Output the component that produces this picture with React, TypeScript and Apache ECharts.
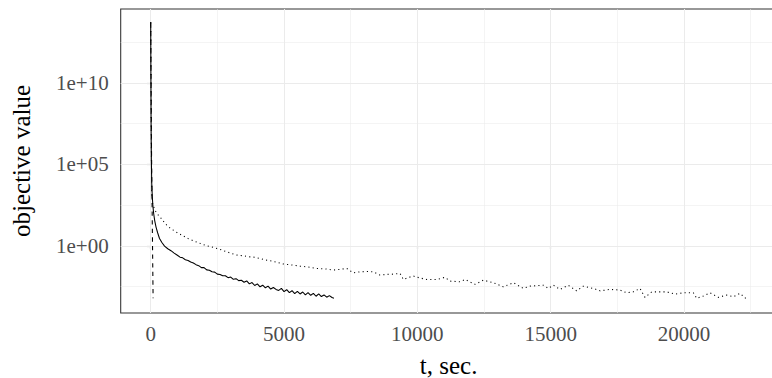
import React, { useEffect, useRef } from "react";
import * as echarts from "echarts";

// t in seconds, objective value stored as log10 exponent
const solidT = [0, 8, 15, 25, 40, 60, 80, 110, 150, 200, 260, 330, 420, 520, 640, 760, 880, 1000, 1100, 1200, 1300, 1400, 1500, 1600, 1700, 1800, 1900, 2000, 2100, 2200, 2300, 2400, 2500, 2600, 2700, 2800, 2900, 3000, 3100, 3200, 3300, 3400, 3500, 3600, 3700, 3800, 3900, 4000, 4100, 4200, 4300, 4400, 4500, 4600, 4700, 4800, 4900, 5000, 5100, 5200, 5300, 5400, 5500, 5600, 5700, 5800, 5900, 6000, 6100, 6200, 6300, 6400, 6500, 6600, 6700, 6800, 6870];
const solidLog = [13.73, 10.5, 7.5, 5.2, 3.8, 3.0, 2.5, 2.0, 1.55, 1.15, 0.8, 0.45, 0.2, -0.02, -0.18, -0.3, -0.45, -0.58, -0.7, -0.74, -0.86, -0.9, -1.0, -1.06, -1.16, -1.22, -1.34, -1.34, -1.48, -1.5, -1.6, -1.62, -1.74, -1.76, -1.84, -1.84, -1.96, -1.92, -2.06, -2.02, -2.14, -2.12, -2.24, -2.16, -2.34, -2.26, -2.44, -2.34, -2.52, -2.42, -2.58, -2.48, -2.66, -2.56, -2.68, -2.74, -2.62, -2.82, -2.7, -2.88, -2.76, -2.94, -2.8, -2.96, -2.84, -3.02, -2.88, -3.04, -2.92, -3.1, -2.96, -3.12, -3.02, -3.16, -3.06, -3.18, -3.23];

const dottedT = [0, 10, 20, 37, 75, 161, 250, 349, 470, 600, 720, 848, 1000, 1223, 1400, 1598, 1850, 2100, 2350, 2599, 2900, 3225, 3500, 3724, 3900, 4100, 4350, 4650, 4974, 5300, 5599, 5900, 6225, 6550, 6849, 7100, 7350, 7599, 7849, 8100, 8349, 8599, 8850, 9099, 9349, 9474, 9650, 9849, 10100, 10350, 10725, 11036, 11224, 11599, 11786, 12161, 12474, 12849, 13224, 13599, 13974, 14224, 14724, 14911, 15099, 15349, 15661, 15974, 16224, 16599, 16849, 17224, 17599, 17849, 18099, 18349, 18536, 18786, 19349, 19661, 19974, 20349, 20474, 20724, 20974, 21286, 21599, 21849, 22099, 22349];
const dottedLog = [13.73, 10, 7, 3.2, 2.55, 2.19, 1.95, 1.78, 1.52, 1.27, 1.1, 0.96, 0.8, 0.6, 0.45, 0.31, 0.15, 0.0, -0.1, -0.22, -0.4, -0.57, -0.62, -0.68, -0.7, -0.78, -0.88, -0.98, -1.12, -1.18, -1.25, -1.3, -1.39, -1.42, -1.49, -1.45, -1.39, -1.66, -1.6, -1.58, -1.6, -1.8, -1.76, -1.74, -1.7, -2.07, -1.95, -1.86, -1.98, -2.07, -2.07, -1.94, -2.17, -2.21, -2.07, -2.37, -2.11, -2.27, -2.52, -2.27, -2.62, -2.48, -2.42, -2.62, -2.42, -2.68, -2.43, -2.77, -2.48, -2.62, -2.77, -2.68, -2.72, -2.89, -2.83, -2.62, -3.17, -2.83, -2.83, -2.97, -2.89, -2.89, -3.23, -3.09, -2.89, -3.17, -3.03, -3.13, -2.92, -3.29];

const dashedT = [0, 30, 55, 75, 90];
const dashedLog = [13.73, 6, 2, -1, -3.23];

const xTicks = [0, 5000, 10000, 15000, 20000];
const xMinorGrid = [2500, 7500, 12500, 17500, 22500];
const yTicks = [0, 5, 10];
const yMinorGrid = [-2.5, 2.5, 7.5, 12.5];

const FONT = "Liberation Serif";

function pairs(t: number[], v: number[]) {
  return t.map((x, i) => [x, v[i]]);
}

function fmtExp(v: number) {
  const s = v < 0 ? "-" : "+";
  const a = Math.abs(Math.round(v));
  return "1e" + s + (a < 10 ? "0" + a : String(a));
}

export default function App() {
  const ref = useRef<HTMLDivElement>(null);
  useEffect(() => {
    const chart = echarts.init(ref.current!, null, { renderer: "svg" });
    const major = { color: "#EBEBEB", width: 1.07, type: "solid" };
    const minor = { color: "#EBEBEB", width: 0.55, type: "solid" };
    const gridData: any[] = [
      ...xTicks.map((v) => ({ xAxis: v, lineStyle: major })),
      ...xMinorGrid.map((v) => ({ xAxis: v, lineStyle: minor })),
      ...yTicks.map((v) => ({ yAxis: v, lineStyle: major })),
      ...yMinorGrid.map((v) => ({ yAxis: v, lineStyle: minor })),
    ];
    const option: any = {
      animation: false,
      backgroundColor: "#FFFFFF",
      grid: {
        left: 120.7,
        right: -4.5,
        top: 9,
        bottom: 65,
        outerBoundsMode: "none",
        containLabel: false,
        show: true,
        borderColor: "#333333",
        borderWidth: 1.07,
        backgroundColor: "#FFFFFF",
      },
      xAxis: {
        type: "value",
        min: -1125,
        max: 23467,
        name: "t, sec.",
        nameLocation: "middle",
        nameGap: 42,
        nameTextStyle: { fontFamily: FONT, fontSize: 25, lineHeight: 21, color: "#000000" },
        axisLine: { show: false },
        splitLine: { show: false },
        axisTick: {
          show: true,
          length: 4,
          customValues: xTicks,
          lineStyle: { color: "#333333", width: 1.07 },
        },
        axisLabel: {
          customValues: xTicks,
          margin: 10,
          fontFamily: FONT,
          fontSize: 21,
          color: "#4D4D4D",
          formatter: (v: number) => String(v),
        },
      },
      yAxis: {
        type: "value",
        min: -4.13,
        max: 14.55,
        name: "objective value",
        nameLocation: "middle",
        nameGap: 87,
        nameTextStyle: { fontFamily: FONT, fontSize: 25, color: "#000000" },
        axisLine: { show: false },
        splitLine: { show: false },
        axisTick: {
          show: true,
          length: 4,
          customValues: yTicks,
          lineStyle: { color: "#333333", width: 1.07 },
        },
        axisLabel: {
          customValues: yTicks,
          margin: 12,
          fontFamily: FONT,
          fontSize: 21,
          color: "#4D4D4D",
          formatter: (v: number) => fmtExp(v),
        },
      },
      series: [
        {
          type: "line",
          data: [],
          silent: true,
          markLine: {
            z: 1,
            silent: true,
            symbol: ["none", "none"],
            label: { show: false },
            data: gridData,
          },
        },
        {
          type: "line",
          z: 10,
          data: pairs(dottedT, dottedLog),
          showSymbol: false,
          lineStyle: { color: "#000000", width: 1.07, type: [1.1, 3.2] },
        },
        {
          type: "line",
          z: 11,
          data: pairs(solidT, solidLog),
          showSymbol: false,
          lineStyle: { color: "#000000", width: 1.07, type: "solid" },
        },
        {
          type: "line",
          z: 12,
          data: pairs(dashedT, dashedLog),
          showSymbol: false,
          lineStyle: { color: "#000000", width: 1.07, type: [4.3, 4.3] },
        },
      ],
    };
    chart.setOption(option);
    return () => chart.dispose();
  }, []);
  return (
    <div
      ref={ref}
      style={{ position: "fixed", left: 0, top: 0, width: 772, height: 378 }}
    />
  );
}
